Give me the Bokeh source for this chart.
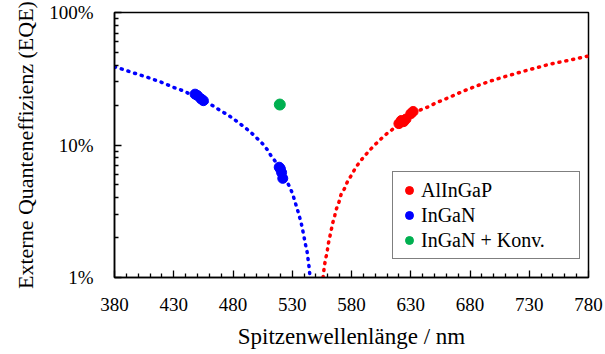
from bokeh.plotting import figure
from bokeh.models import FixedTicker, Legend, LegendItem, Range1d, Title
from bokeh.embed import file_html
from bokeh.resources import INLINE

# ---- data ----
blue_curve_x = [380, 383, 395.7, 407.5, 419.3, 430.9, 437.1, 448, 458, 465, 470, 475.6, 480.6,
                485.7, 490.8, 495.3, 500, 504.6, 508.8, 512.1, 515.8, 520, 524, 528, 530.5,
                532.2, 534.2, 535.8, 537.5, 538.9, 540, 541.2, 542.6, 543.4, 544.3, 544.8, 545.2]
blue_curve_y = [38.7, 38.3, 35.1, 32.5, 29.8, 27.0, 25.8, 23.3, 21.0, 19.3, 18.0, 16.9, 15.7,
                14.5, 13.4, 12.4, 11.3, 10.3, 9.25, 8.3, 7.5, 6.5, 5.6, 4.8, 4.23,
                3.75, 3.3, 2.94, 2.59, 2.26, 2.01, 1.77, 1.55, 1.36, 1.18, 1.05, 1.0]

red_curve_x = [556, 557, 558, 559.4, 560.3, 561.6, 562.8, 564.2, 565.9, 567.3, 569.6, 571.2,
               574, 576.8, 580.4, 583.5, 586.9, 590.9, 594.9, 599.1, 603.9, 608.4, 613.5,
               620, 630, 638.2, 645.3, 650.9, 662.7, 674.2, 686, 697.8, 709.9, 721.7, 733.8,
               746.2, 758.6, 770.4, 780]
red_curve_y = [1.0, 1.2, 1.36, 1.55, 1.77, 2.01, 2.26, 2.59, 2.94, 3.3, 3.75, 4.23,
               4.67, 5.35, 6.0, 6.76, 7.42, 8.24, 9.04, 9.91, 10.9, 11.9, 12.9,
               14.3, 16.5, 18.4, 19.5, 20.7, 22.9, 25.5, 28.0, 30.5, 32.9, 35.3, 37.8,
               40.5, 42.7, 45.0, 47.0]

alingap_x = [620, 622, 624, 626, 630, 632]
alingap_y = [14.5, 15.3, 15.0, 15.7, 17.2, 17.9]

ingan_x = [448, 450, 453, 455, 519, 520, 521, 522]
ingan_y = [24.2, 23.6, 22.3, 21.6, 6.8, 6.6, 6.2, 5.6]

konv_x = [519.5]
konv_y = [20.2]

x_ticks = [380, 430, 480, 530, 580, 630, 680, 730, 780]
x_tick_labels = ["380", "430", "480", "530", "580", "630", "680", "730", "780"]
y_ticks = [1, 10, 100]
y_tick_labels = ["1%", "10%", "100%"]

legend_labels = ["AlInGaP", "InGaN", "InGaN + Konv."]
RED, BLUE, GREEN = "#FF0000", "#0000FF", "#00B050"
FONT = "Liberation Serif"

p = figure(width=605, height=354, y_axis_type="log",
           x_range=Range1d(380, 780), y_range=Range1d(1, 100),
           output_backend="svg", toolbar_location=None,
           min_border_left=114, min_border_right=17, min_border_top=12, min_border_bottom=77)

p.xgrid.visible = False
p.ygrid.visible = False
p.outline_line_color = "black"
p.outline_line_width = 1.5
p.background_fill_color = "white"
p.border_fill_color = "white"

# curves
p.line(blue_curve_x, blue_curve_y, line_color=BLUE, line_width=3.5,
       line_dash="1 6", line_cap="round")
p.line(red_curve_x, red_curve_y, line_color=RED, line_width=3.5,
       line_dash="1 6", line_cap="round")

r_red = p.scatter(alingap_x, alingap_y, size=10, color=RED)
r_blue = p.scatter(ingan_x, ingan_y, size=10, color=BLUE)
r_green = p.scatter(konv_x, konv_y, size=11, color=GREEN)

# axes
minor_x = [v for v in range(390, 780, 10) if v not in x_ticks]
p.xaxis.ticker = FixedTicker(ticks=x_ticks, minor_ticks=minor_x)
p.xaxis.major_label_overrides = dict(zip(x_ticks, x_tick_labels))
minor_y = [m * d for d in (1, 10) for m in range(2, 10)]
p.yaxis.ticker = FixedTicker(ticks=y_ticks, minor_ticks=minor_y)
p.yaxis.major_label_overrides = dict(zip(y_ticks, y_tick_labels))

for ax in (p.xaxis, p.yaxis):
    ax.axis_line_color = "black"
    ax.axis_line_width = 1.5
    ax.major_tick_line_color = "black"
    ax.minor_tick_line_color = "black"
    ax.major_tick_line_width = 1.3
    ax.minor_tick_line_width = 1.3
    ax.major_tick_in = 7
    ax.major_tick_out = 0
    ax.minor_tick_in = 4
    ax.minor_tick_out = 0
    ax.major_label_text_font = FONT
    ax.major_label_text_font_size = "19px"
    ax.major_label_text_color = "black"
    ax.axis_label_text_font = FONT
    ax.axis_label_text_font_size = "23px"
    ax.axis_label_text_font_style = "normal"
    ax.axis_label_text_color = "black"

p.xaxis.axis_label = "Spitzenwellenlänge / nm"
p.xaxis.major_label_standoff = 20
p.xaxis.axis_label_standoff = 10
p.yaxis.major_label_standoff = 21

# y-axis title as a side title (allows shifting it like in the reference)
ytitle = Title(text="Externe Quanteneffizienz (EQE)", align="center", offset=12,
               standoff=17, text_font=FONT, text_font_size="22px",
               text_font_style="normal", text_color="black")
p.add_layout(ytitle, "left")

legend = Legend(items=[LegendItem(label=legend_labels[0], renderers=[r_red]),
                       LegendItem(label=legend_labels[1], renderers=[r_blue]),
                       LegendItem(label=legend_labels[2], renderers=[r_green])],
                location=(278, 18))
legend.border_line_color = "black"
legend.border_line_width = 1.5
legend.background_fill_color = "white"
legend.background_fill_alpha = 1
legend.label_text_font = FONT
legend.label_text_font_size = "20px"
legend.label_text_color = "black"
legend.padding = 6
legend.margin = 0
legend.spacing = 1
legend.glyph_width = 20
legend.glyph_height = 20
legend.label_height = 24
legend.label_standoff = 2
legend.label_width = 152
p.add_layout(legend)

open("out.html", "w").write(file_html(p, INLINE))
